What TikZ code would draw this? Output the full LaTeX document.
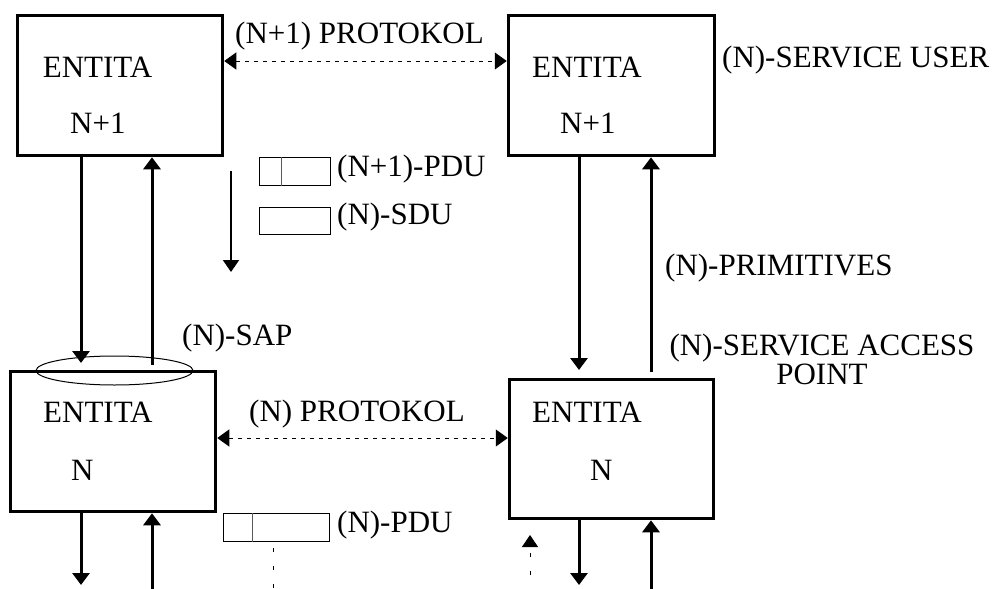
\documentclass[tikz,border=0pt]{standalone}
\usepackage{fontspec}
\setmainfont{Liberation Serif}
\usetikzlibrary{arrows.meta}
\begin{document}
\begin{tikzpicture}[x=1pt,y=-1pt,
  ent/.style={draw, line width=3.5pt, rectangle, inner sep=0pt},
  txt/.style={inner sep=0pt, anchor=base west, font=\fontsize{31}{29}\selectfont},
  arr/.style={line width=3pt, -{Triangle[length=12pt,width=17pt]}},
  darr/.style={line width=1pt, dash pattern=on 4pt off 5pt, {Triangle[length=12pt,width=17pt]}-{Triangle[length=12pt,width=17pt]}},
  vdash/.style={line width=1pt, dash pattern=on 4pt off 14pt},
  pdu/.style={draw, line width=1pt, rectangle, inner sep=0pt}]
\useasboundingbox (0,0) rectangle (999,589);
% entity boxes
\node[ent, minimum width=205pt, minimum height=140pt] (b1) at (120,85.5) {};
\node[ent, minimum width=206pt, minimum height=140pt] (b2) at (611.5,85.5) {};
\node[ent, minimum width=205pt, minimum height=140pt] (b3) at (113,441.5) {};
\node[ent, minimum width=204pt, minimum height=139pt] (b4) at (611.5,449) {};
% texts in boxes
\node[txt] (t1) at (42.7,77) {ENTITA};
\node[txt] (t1n) at (70,133) {N+1};
\node[txt] (t2) at (532,77) {ENTITA};
\node[txt] (t2n) at (560,133) {N+1};
\node[txt] (t3) at (43,422) {ENTITA};
\node[txt] (t3n) at (71,480) {N};
\node[txt] (t4) at (532,422) {ENTITA};
\node[txt] (t4n) at (590,480) {N};
% labels
\node[txt] (lp1) at (235,43) {(N+1) PROTOKOL};
\node[txt] (lsu) at (722,67) {(N)-SERVICE USER};
\node[txt] (lpdu1) at (337,176) {(N+1)-PDU};
\node[txt] (lsdu) at (337,224) {(N)-SDU};
\node[txt] (lprim) at (665,275) {(N)-PRIMITIVES};
\node[txt] (lsap) at (182,345) {(N)-SAP};
\node[txt, anchor=base] (lsa1) at (822,355) {(N)-SERVICE ACCESS};
\node[txt, anchor=base] (lsa2) at (822,384) {POINT};
\node[txt] (lp0) at (249,421) {(N) PROTOKOL};
\node[txt] (lpdu0) at (337,532) {(N)-PDU};
% PDU / SDU boxes
\node[pdu, minimum width=71pt, minimum height=28pt] (pdu1) at (295,171.5) {};
\draw[line width=1pt, gray!70!black] (pdu1.north -| 281,0) -- (pdu1.south -| 281,0);
\node[pdu, minimum width=71pt, minimum height=27pt] (sdu) at (295,221) {};
\node[pdu, minimum width=106pt, minimum height=28pt] (pdu0) at (276.5,527.5) {};
\draw[line width=1pt, gray!70!black] (pdu0.north -| 252,0) -- (pdu0.south -| 252,0);
% SAP ellipse
\draw[line width=1pt] (114.5,370.5) ellipse [x radius=78.5, y radius=14.5];
% coordinates
\coordinate (c1) at (0,61);
\coordinate (c2) at (0,438);
\coordinate (d1) at (81,363);
\coordinate (u1) at (152,365);
\coordinate (d2) at (579,370);
\coordinate (u2) at (651,372);
\coordinate (bd3) at (81,585);
\coordinate (bu3) at (152,589);
\coordinate (bd4) at (579,585);
\coordinate (bu4) at (651,589);
\coordinate (sa) at (231,171);
\coordinate (sb) at (231,272);
\coordinate (va) at (273,548);
\coordinate (vb) at (273,589);
\coordinate (wa) at (530,589);
\coordinate (wb) at (530,535);
% vertical service arrows
\draw[arr] (b1.south -| d1) -- (d1);
\draw[arr] (u1) -- (b1.south -| u1);
\draw[arr] (b2.south -| d2) -- (d2);
\draw[arr] (u2) -- (b2.south -| u2);
\draw[arr] (b3.south -| bd3) -- (bd3);
\draw[arr] (bu3) -- (b3.south -| bu3);
\draw[arr] (b4.south -| bd4) -- (bd4);
\draw[arr] (bu4) -- (b4.south -| bu4);
% small arrow
\draw[line width=2pt, -{Triangle[length=12pt,width=16pt]}] (sa) -- (sb);
% protocol arrows
\draw[darr] (b1.east |- c1) -- (b2.west |- c1);
\draw[darr] (b3.east |- c2) -- (b4.west |- c2);
% dashed verticals
\draw[vdash] (va) -- (vb);
\draw[vdash, dash phase=4pt, -{Triangle[length=12pt,width=16pt]}] (wa) -- (wb);
\end{tikzpicture}
\end{document}
